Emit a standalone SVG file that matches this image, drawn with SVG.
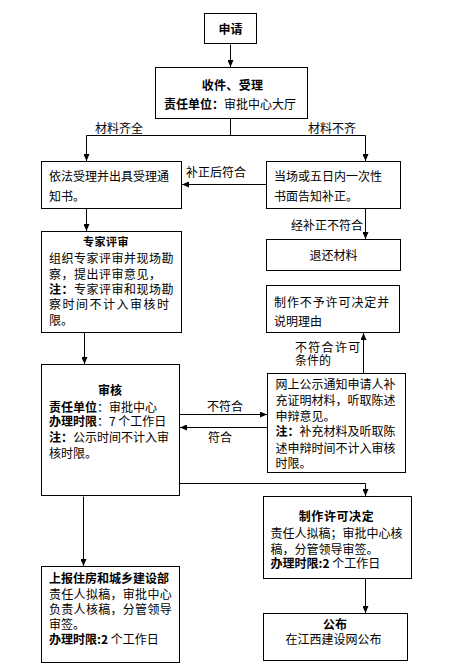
<svg xmlns="http://www.w3.org/2000/svg" width="459" height="668" viewBox="0 0 459 668">
<defs>
<marker id="ah" markerWidth="7" markerHeight="6" refX="7" refY="3" orient="auto" markerUnits="userSpaceOnUse">
<path d="M0,0 L7,3 L0,6 z" fill="#000"/>
</marker>
<style>
.box{fill:#fff;stroke:#000;stroke-width:1}
.ln{fill:none;stroke:#000;stroke-width:1}
.ar{fill:none;stroke:#000;stroke-width:1;marker-end:url(#ah)}
text{font-family:"Noto Sans CJK SC","Liberation Sans",sans-serif;font-size:12px;fill:#000}
.b{font-weight:bold}
.c{text-anchor:middle}
</style>
</defs>
<rect width="459" height="668" fill="#fff"/>
<g id="connectors">
<path class="ar" d="M230.5,44.5 V67"/>
<path class="ln" d="M230.5,118.5 V135.5 M86.5,135.5 H365.5"/>
<path class="ar" d="M86.5,135.5 V161"/>
<path class="ar" d="M365.5,135.5 V161"/>
<path class="ar" d="M266.5,184.5 H182"/>
<path class="ar" d="M86.5,208.5 V231"/>
<path class="ar" d="M365.5,208.5 V239"/>
<path class="ar" d="M84.5,332.5 V364"/>
<path class="ar" d="M363.5,373.5 V333"/>
<path class="ar" d="M179.5,414.5 H267"/>
<path class="ar" d="M267.5,427.5 H180"/>
<path class="ar" d="M179.5,483.5 H365.5 V496"/>
<path class="ar" d="M83.5,496.5 V566"/>
<path class="ar" d="M365.5,578.5 V613"/>
<text x="95" y="133">材料齐全</text>
<text x="308" y="133">材料不齐</text>
<text x="186" y="177">补正后符合</text>
<text x="291" y="229.5">经补正不符合</text>
<text x="295" y="352" style="letter-spacing:1.3px">不符合许可</text>
<text x="295" y="365">条件的</text>
<text x="207" y="411">不符合</text>
<text x="208" y="441.5">符合</text>
</g>
<g id="shenqing">
<rect class="box" x="204.5" y="13.5" width="52" height="30"/>
<text class="b c" x="230.5" y="33.5">申请</text>
</g>
<g id="shoujian">
<rect class="box" x="155.5" y="67.5" width="152" height="51"/>
<text class="b c" x="232.5" y="89.5" style="letter-spacing:0.3px">收件、受理</text>
<text x="164" y="108.5"><tspan class="b">责任单位：</tspan>审批中心大厅</text>
</g>
<g id="yifa">
<rect class="box" x="41.5" y="161.5" width="140" height="47"/>
<text x="49" y="181">依法受理并出具受理通</text>
<text x="49" y="201">知书。</text>
</g>
<g id="dangchang">
<rect class="box" x="266.5" y="161.5" width="134" height="47"/>
<text x="274" y="181">当场或五日内一次性</text>
<text x="274" y="201">书面告知补正。</text>
</g>
<g id="tuihuan">
<rect class="box" x="266.5" y="239.5" width="134" height="31"/>
<text class="c" x="333.5" y="259.5">退还材料</text>
</g>
<g id="zhuanjia">
<rect class="box" x="41.5" y="231.5" width="140" height="101"/>
<text class="b c" x="106" y="245.5" style="font-size:11px;letter-spacing:0.5px">专家评审</text>
<text x="49" y="262.5" style="letter-spacing:0.5px">组织专家评审并现场勘</text>
<text x="49" y="278.5" style="letter-spacing:0.5px">察，提出评审意见，</text>
<text x="49" y="294" style="letter-spacing:0.5px"><tspan class="b">注：</tspan>专家评审和现场勘</text>
<text x="49" y="309" style="letter-spacing:1.5px">察时间不计入审核时</text>
<text x="49" y="325">限。</text>
</g>
<g id="buyu">
<rect class="box" x="266.5" y="285.5" width="133" height="47"/>
<text x="274" y="306.5" style="letter-spacing:0.9px">制作不予许可决定并</text>
<text x="274" y="326">说明理由</text>
</g>
<g id="shenhe">
<rect class="box" x="41.5" y="364.5" width="138" height="131"/>
<text class="b c" x="110" y="395">审核</text>
<text x="49" y="411.5"><tspan class="b">责任单位</tspan>：审批中心</text>
<text x="49" y="426"><tspan class="b">办理时限</tspan>：7 个工作日</text>
<text x="49" y="441.5"><tspan class="b">注：</tspan>公示时间不计入审</text>
<text x="49" y="458">核时限。</text>
</g>
<g id="gongshi">
<rect class="box" x="267.5" y="373.5" width="138" height="99"/>
<text x="275.5" y="389">网上公示通知申请人补</text>
<text x="275.5" y="405">充证明材料，听取陈述</text>
<text x="275.5" y="421">申辩意见。</text>
<text x="275.5" y="436"><tspan class="b">注：</tspan>补充材料及听取陈</text>
<text x="275.5" y="452.5">述申辩时间不计入审核</text>
<text x="275.5" y="467.5">时限。</text>
</g>
<g id="zhizuo">
<rect class="box" x="263.5" y="496.5" width="148" height="82"/>
<text class="b c" x="336.5" y="521" style="letter-spacing:0.6px">制作许可决定</text>
<text x="270.5" y="537.5">责任人拟稿；审批中心核</text>
<text x="270.5" y="553.5">稿，分管领导审签。</text>
<text x="270.5" y="567.5"><tspan class="b">办理时限:2</tspan> 个工作日</text>
</g>
<g id="gongbu">
<rect class="box" x="263.5" y="613.5" width="144" height="47"/>
<text class="b c" x="335" y="629">公布</text>
<text class="c" x="333.5" y="644">在江西建设网公布</text>
</g>
<g id="shangbao">
<rect class="box" x="41.5" y="566.5" width="138" height="96"/>
<text class="b" x="49" y="582.5">上报住房和城乡建设部</text>
<text x="49" y="599" style="letter-spacing:0.3px">责任人拟稿，审批中心</text>
<text x="49" y="614" style="letter-spacing:0.3px">负责人核稿，分管领导</text>
<text x="49" y="629">审签。</text>
<text x="49" y="644"><tspan class="b">办理时限:2</tspan> 个工作日</text>
</g>
</svg>
